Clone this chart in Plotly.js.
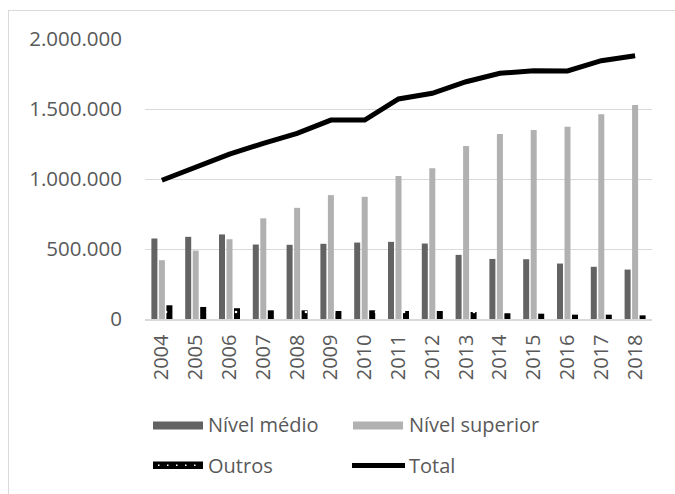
<!DOCTYPE html>
<html>
<head>
<meta charset="utf-8">
<script src="https://cdn.plot.ly/plotly-3.0.1.min.js"></script>
<style>
  html, body { margin: 0; padding: 0; overflow: hidden; background: #fff; }
  #chart { position: absolute; left: 0; top: 0; width: 675px; height: 494px; }
  #frame { position: absolute; left: 8px; top: 10px; width: 800px; height: 700px;
           border-left: 1px solid #d9d9d9; border-top: 1px solid #d9d9d9; pointer-events: none; }
</style>
</head>
<body>
<div id="chart"></div>
<div id="frame"></div>
<script>
// ---- data ----
const years = ["2004","2005","2006","2007","2008","2009","2010","2011","2012","2013","2014","2015","2016","2017","2018"];
const nivelMedio = [575000, 587000, 604000, 532000, 530000, 537000, 546000, 551000, 539000, 458000, 429000, 427000, 396000, 373000, 353000];
const nivelSuperior = [420000, 489000, 570000, 719000, 794000, 885000, 873000, 1021000, 1076000, 1235000, 1321000, 1350000, 1373000, 1462000, 1529000];
const outros = [98000, 86000, 77000, 62000, 62000, 57000, 62000, 57000, 57000, 50000, 41000, 38000, 31000, 31000, 26000];
const total = [991000, 1083000, 1178000, 1255000, 1326000, 1421000, 1421000, 1572000, 1612000, 1695000, 1755000, 1774000, 1772000, 1845000, 1881000];
const yTicks = [0, 500000, 1000000, 1500000, 2000000];
const seriesNames = ["Nível médio", "Nível superior", "Outros", "Total"];

// ---- styling ----
const W = 675, H = 494, L = 145, R = 23, T = 39, B = 175;
const PW = W - L - R, PH = H - T - B;
const px = p => (p - L) / PW;
const py = p => (H - B - p) / PH;
const FONT = "Open Sans";
const TXT = "#595959";
const C_MEDIO = "#636363", C_SUP = "#b1b1b1";

const traces = [
  { type: "bar", name: seriesNames[0], x: years, y: nivelMedio, marker: { color: C_MEDIO } },
  { type: "bar", name: seriesNames[1], x: years, y: nivelSuperior, marker: { color: C_SUP } },
  { type: "bar", name: seriesNames[2], x: years, y: outros,
    marker: { color: "#000", pattern: { shape: ".", fillmode: "replace", bgcolor: "#000", fgcolor: "#fff", size: 14, solidity: 0.03 } } },
  { type: "scatter", mode: "lines", name: seriesNames[3], x: years, y: total,
    line: { color: "#000", width: 5 } }
];

// manual legend
const shapes = [];
const annotations = [];
function swatch(x0, x1, y0, y1, color) {
  shapes.push({ type: "rect", xref: "paper", yref: "paper", x0: px(x0), x1: px(x1), y0: py(y1), y1: py(y0),
                fillcolor: color, line: { width: 0 } });
}
function label(x, y, text) {
  annotations.push({ xref: "paper", yref: "paper", x: px(x), y: py(y), xanchor: "left", yanchor: "middle",
                     text: text, showarrow: false, font: { family: FONT, size: 20, color: TXT } });
}
swatch(153, 203, 421.5, 429.5, C_MEDIO);
label(206, 424, seriesNames[0]);
swatch(353, 403, 421.5, 429.5, C_SUP);
label(407, 424, seriesNames[1]);
swatch(153, 203, 461.5, 469, "#000");
[158, 167, 176, 185, 194].forEach(d => {
  shapes.push({ type: "rect", xref: "paper", yref: "paper", x0: px(d), x1: px(d + 1.5), y0: py(466), y1: py(464.5),
                fillcolor: "#fff", line: { width: 0 } });
});
label(206, 465, seriesNames[2]);
shapes.push({ type: "line", xref: "paper", yref: "paper", x0: px(352), x1: px(405), y0: py(465.5), y1: py(465.5),
              line: { color: "#000", width: 5 } });
label(407, 465, seriesNames[3]);

const layout = {
  width: W, height: H,
  margin: { l: L, r: R, t: T, b: B, pad: 0 },
  paper_bgcolor: "rgba(0,0,0,0)", plot_bgcolor: "rgba(0,0,0,0)",
  separators: ",.",
  showlegend: false,
  barmode: "group", bargap: 0.334, bargroupgap: 0.2,
  font: { family: FONT, size: 20, color: TXT },
  xaxis: {
    type: "category", tickangle: -90, showgrid: false, ticks: "",
    showline: true, linecolor: "#d9d9d9", linewidth: 1.5,
    tickfont: { family: FONT, size: 20, color: TXT }, ticklabelstandoff: 6
  },
  yaxis: {
    range: [0, 2000000], tickvals: yTicks, tickformat: ",d",
    showgrid: true, gridcolor: "#d9d9d9", gridwidth: 1, zeroline: false, showline: false, ticks: "",
    tickfont: { family: FONT, size: 20.5, color: TXT }, ticklabelstandoff: 22
  },
  shapes: shapes,
  annotations: annotations,
  hovermode: false
};

Plotly.newPlot("chart", traces, layout, { displayModeBar: false, staticPlot: true });
</script>
</body>
</html>
